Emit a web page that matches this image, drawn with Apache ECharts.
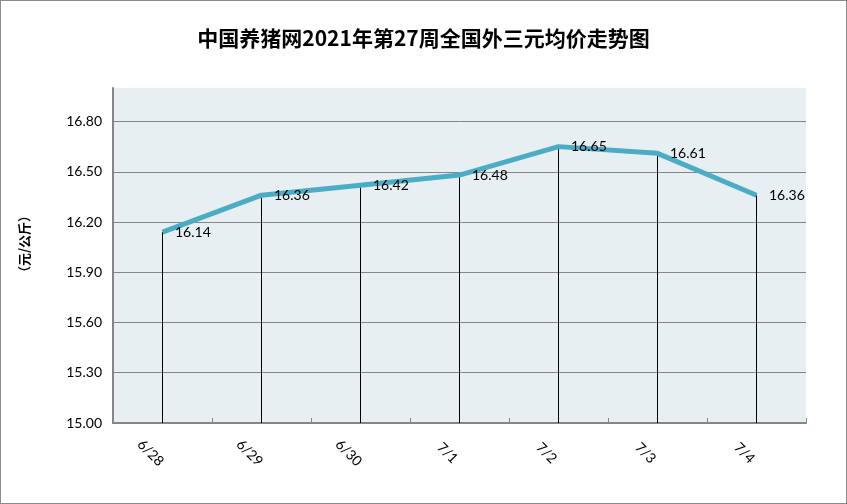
<!DOCTYPE html>
<html>
<head>
<meta charset="utf-8">
<script src="https://cdn.jsdelivr.net/npm/echarts@6/dist/echarts.min.js"></script>
<style>
html,body{margin:0;padding:0;background:#fff;}
#chart{width:847px;height:504px;box-sizing:border-box;border:1px solid #8a8a8a;}
</style>
</head>
<body>
<div id="chart"></div>
<script>
var titleText = '中国养猪网2021年第27周全国外三元均价走势图';
var unitText = '（元/公斤）';
var categories = ['6/28', '6/29', '6/30', '7/1', '7/2', '7/3', '7/4'];
var prices = [16.14, 16.36, 16.42, 16.48, 16.65, 16.61, 16.36];
var yMin = 15.0, yMax = 17.0, yStep = 0.3;

var chart = echarts.init(document.getElementById('chart'), null, {renderer: 'canvas'});
var numFont = 'Lato, "Open Sans", sans-serif';
chart.setOption({
  animation: false,
  backgroundColor: '#ffffff',
  title: {
    text: titleText,
    left: 'center',
    top: 22,
    textStyle: {fontFamily: '"Noto Sans CJK SC", sans-serif', fontSize: 21, fontWeight: 'bold', color: '#000'}
  },
  graphic: [{
    type: 'text',
    left: 17,
    top: 208,
    rotation: Math.PI / 2,
    style: {text: unitText, fontFamily: '"Noto Sans CJK SC", sans-serif', fontSize: 13, fontWeight: 'bold', fill: '#000'}
  }],
  grid: {left: 112, right: 40, top: 87, bottom: 80, show: true, backgroundColor: '#e8eff3', borderWidth: 0},
  xAxis: {
    type: 'category',
    data: categories,
    boundaryGap: true,
    axisLine: {lineStyle: {color: '#868686', width: 2}},
    axisTick: {show: true, inside: true, length: 5, lineStyle: {color: '#868686'}},
    axisLabel: {
      rotate: -45, align: 'center', verticalAlign: 'middle',
      margin: 18, lineHeight: 34,
      fontFamily: numFont, fontSize: 14, color: '#000',
      formatter: function (v) { return '\n' + v; }
    }
  },
  yAxis: {
    type: 'value',
    min: yMin, max: yMax, interval: yStep,
    axisLine: {show: true, lineStyle: {color: '#868686', width: 2}},
    axisTick: {show: false},
    splitLine: {show: true, showMaxLine: false, lineStyle: {color: '#868686', width: 1}},
    axisLabel: {
      margin: 11, fontFamily: numFont, fontSize: 14, color: '#000',
      showMaxLabel: false,
      formatter: function (v) { return Math.abs(v - yMax) < 1e-6 ? '' : v.toFixed(2); }
    }
  },
  series: [{
    type: 'bar',
    data: prices,
    barWidth: 1,
    itemStyle: {color: '#000'},
    silent: true,
    z: 1
  }, {
    type: 'line',
    data: prices,
    symbol: 'circle',
    symbolSize: 1,
    showSymbol: true,
    itemStyle: {color: '#4bacc6', opacity: 0},
    lineStyle: {color: '#4bacc6', width: 5},
    label: {
      show: true, position: 'right', distance: 12, offset: [0, 0],
      fontFamily: numFont, fontSize: 14, color: '#000', opacity: 1,
      formatter: function (p) { return p.value.toFixed(2); }
    },
    z: 3
  }]
});
</script>
</body>
</html>
